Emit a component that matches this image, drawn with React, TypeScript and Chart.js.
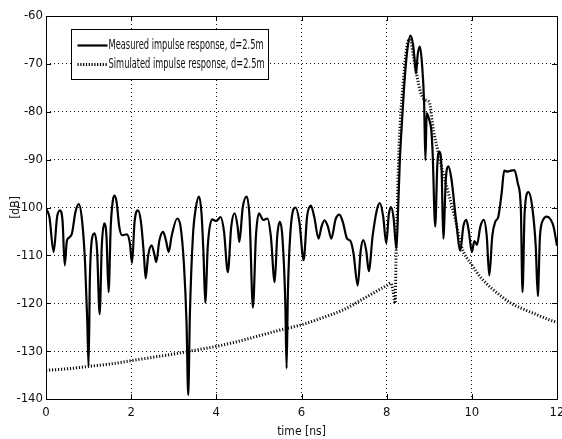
import React, { useEffect, useRef } from 'react';
import { Chart, registerables } from 'chart.js';

Chart.register(...registerables);

const FONT = "'Liberation Sans Narrow', 'DejaVu Sans Condensed', 'Arial Narrow', 'Liberation Sans', sans-serif";

const xTicks = [0, 2, 4, 6, 8, 10, 12];
const yTicks = [-60, -70, -80, -90, -100, -110, -120, -130, -140];

const legendLabels = ['Measured impulse response, d=2.5m', 'Simulated impulse response, d=2.5m'];

const measuredTime = [
  0.0, 0.08, 0.18, 0.26, 0.33, 0.39, 0.44, 0.49, 0.54, 0.61, 0.69, 0.77, 0.85, 0.92, 0.97, 1.0, 1.03, 1.08, 1.14, 1.2,
  1.26, 1.31, 1.37, 1.42, 1.47, 1.52, 1.57, 1.61, 1.66, 1.72, 1.79, 1.9, 1.97, 2.02, 2.08, 2.16, 2.23, 2.3, 2.34, 2.4,
  2.48, 2.55, 2.59, 2.66, 2.75, 2.82, 2.88, 2.95, 3.08, 3.16, 3.24, 3.3, 3.34, 3.38, 3.45, 3.52, 3.59, 3.65, 3.7, 3.74,
  3.8, 3.9, 4.0, 4.1, 4.18, 4.27, 4.35, 4.43, 4.5, 4.54, 4.62, 4.71, 4.78, 4.86, 4.93, 5.0, 5.1, 5.2, 5.28, 5.37,
  5.43, 5.49, 5.55, 5.62, 5.65, 5.68, 5.75, 5.86, 5.95, 6.05, 6.13, 6.22, 6.3, 6.4, 6.47, 6.54, 6.62, 6.7, 6.8, 6.89,
  6.97, 7.07, 7.15, 7.22, 7.32, 7.39, 7.45, 7.52, 7.58, 7.67, 7.77, 7.84, 7.92, 7.99, 8.05, 8.1, 8.16, 8.23, 8.27, 8.31,
  8.36, 8.41, 8.48, 8.56, 8.62, 8.65, 8.69, 8.73, 8.78, 8.83, 8.88, 8.91, 8.94, 9.0, 9.05, 9.08, 9.14, 9.19, 9.24, 9.29,
  9.33, 9.39, 9.45, 9.52, 9.63, 9.73, 9.8, 9.87, 9.93, 10.0, 10.06, 10.12, 10.2, 10.28, 10.35, 10.41, 10.48, 10.55, 10.62, 10.7,
  10.76, 10.84, 10.92, 11.0, 11.08, 11.15, 11.19, 11.24, 11.33, 11.42, 11.5, 11.55, 11.6, 11.68, 11.76, 11.85, 11.92, 12.0,
];

const measuredDb = [
  -100.2, -102, -109.3, -102, -100.6, -103, -112.1, -107, -106.3, -105.4, -101, -99.3, -103, -112, -124, -133.2, -115, -106.5, -105.4, -109,
  -122.3, -108, -103.3, -106, -117.7, -104, -98.5, -97.5, -99, -104, -105.8, -105.6, -107.5, -111.6, -103, -100.6, -103, -110, -114.8, -110,
  -107.9, -110, -111.4, -107, -105.1, -107, -109.3, -106, -102.3, -104, -112, -124, -139.2, -122, -106, -100, -97.7, -101, -110, -119.9,
  -108, -102.5, -102.8, -102, -105, -113.5, -104, -101.2, -104, -107.2, -100, -97.7, -102, -120.9, -106, -101.2, -102.6, -102.3, -106, -115.6,
  -106, -103, -106, -120, -133.6, -118, -104, -100, -103, -111, -102, -99.6, -102, -106.5, -104, -102.7, -104, -106.5, -102.5, -101.5,
  -103, -106.5, -107, -109.5, -116.3, -109, -106.8, -109, -113.3, -106, -100.5, -99.1, -102, -107.5, -101.5, -99.9, -102, -108.6, -100, -90.1,
  -82, -74.8, -67.5, -64.1, -66, -68.5, -72, -68, -66.4, -70, -78.3, -90.1, -80.3, -81.7, -84, -88.7, -104, -91, -88.4, -92,
  -106.5, -94, -91.4, -94, -102.7, -109, -104, -102.6, -105, -109.3, -107, -107.8, -104, -102.6, -106, -114.2, -106, -103, -102, -97,
  -92.3, -92.5, -92.3, -92.2, -95, -100, -117.7, -101, -96.8, -100, -108, -118.5, -106, -102.5, -101.9, -102.5, -104, -108,
];

const simulatedTime = [
  0, 0.5, 1, 1.5, 2, 2.5, 3, 3.5, 4, 4.5, 5, 5.5, 6, 6.5, 7, 7.5, 8, 8.1, 8.15, 8.2,
  8.22, 8.25, 8.28, 8.32, 8.38, 8.45, 8.52, 8.56, 8.62, 8.7, 8.8, 8.9, 9.0, 9.1, 9.2, 9.3, 9.45, 9.6, 9.75, 10.0,
  10.2, 10.44, 10.7, 10.9, 11.2, 11.5, 11.8, 12,
];

const simulatedDb = [
  -134, -133.7, -133.2, -132.7, -132, -131.3, -130.6, -129.8, -129, -128, -126.8, -125.6, -124.5, -123, -121.3, -118.8, -116.3, -115.8, -117.5, -120,
  -110, -100, -90, -82, -75, -68, -65, -65, -68, -72, -76, -77.5, -78, -84, -88, -92, -97, -102, -108, -112,
  -114.5, -116.7, -118.6, -119.9, -121.2, -122.3, -123.4, -124,
];

function drawFitText(ctx: CanvasRenderingContext2D, text: string, x: number, y: number, w: number) {
  const m = ctx.measureText(text).width;
  ctx.save();
  ctx.translate(x, y);
  ctx.scale(w / m, 1);
  ctx.fillText(text, 0, 0);
  ctx.restore();
}

const framePlugin = {
  id: 'frame',
  afterDatasetsDraw(chart: any) {
    const { ctx, chartArea: a, scales } = chart;
    ctx.save();
    ctx.strokeStyle = '#000';
    ctx.lineWidth = 1;
    ctx.setLineDash([]);
    ctx.strokeRect(Math.round(a.left) + 0.5, Math.round(a.top) + 0.5, Math.round(a.right - a.left), Math.round(a.bottom - a.top));
    const tl = 5;
    ctx.beginPath();
    for (const t of xTicks) {
      const px = Math.round(scales.x.getPixelForValue(t)) + 0.5;
      ctx.moveTo(px, a.bottom); ctx.lineTo(px, a.bottom - tl);
      ctx.moveTo(px, a.top); ctx.lineTo(px, a.top + tl);
    }
    for (const v of yTicks) {
      const py = Math.round(scales.y.getPixelForValue(v)) + 0.5;
      ctx.moveTo(a.left, py); ctx.lineTo(a.left + tl, py);
      ctx.moveTo(a.right, py); ctx.lineTo(a.right - tl, py);
    }
    ctx.stroke();

    // legend box
    const lx = Math.round(a.left + 25) + 0.5;
    const ly = Math.round(a.top + 13) + 0.5;
    const lw = 197;
    const lh = 50;
    ctx.fillStyle = '#fff';
    ctx.fillRect(lx, ly, lw, lh);
    ctx.strokeRect(lx, ly, lw, lh);
    const rows = [ly + 16, ly + 35];
    ctx.lineWidth = 2.2;
    ctx.beginPath();
    ctx.moveTo(lx + 6, rows[0]); ctx.lineTo(lx + 36, rows[0]);
    ctx.stroke();
    ctx.lineWidth = 3;
    ctx.setLineDash([1.2, 1.6]);
    ctx.beginPath();
    ctx.moveTo(lx + 6, rows[1]); ctx.lineTo(lx + 36, rows[1]);
    ctx.stroke();
    ctx.setLineDash([]);
    ctx.fillStyle = '#111';
    ctx.font = `14px ${FONT}`;
    ctx.textBaseline = 'middle';
    ctx.textAlign = 'left';
    drawFitText(ctx, legendLabels[0], lx + 37, rows[0], 155);
    drawFitText(ctx, legendLabels[1], lx + 37, rows[1], 156);
    ctx.restore();
  },
};

export default function App() {
  const ref = useRef<HTMLCanvasElement | null>(null);
  useEffect(() => {
    document.body.style.margin = '0';
    const canvas = ref.current;
    if (!canvas) return;
    const measured = measuredTime.map((t, i) => ({ x: t, y: measuredDb[i] }));
    const simulated = simulatedTime.map((t, i) => ({ x: t, y: simulatedDb[i] }));
    const chart = new Chart(canvas, {
      type: 'line',
      data: {
        datasets: [
          {
            label: legendLabels[0],
            data: measured,
            borderColor: '#000',
            borderWidth: 2.2,
            pointRadius: 0,
            cubicInterpolationMode: 'monotone',
            fill: false,
          },
          {
            label: legendLabels[1],
            data: simulated,
            borderColor: '#111',
            borderWidth: 3,
            borderDash: [1.2, 1.8],
            borderCapStyle: 'butt',
            pointRadius: 0,
            cubicInterpolationMode: 'monotone',
            fill: false,
          },
        ],
      },
      options: {
        responsive: false,
        animation: false,
        layout: { padding: { top: 16, right: 5, left: 0, bottom: 0 } },
        plugins: { legend: { display: false }, tooltip: { enabled: false } },
        scales: {
          x: {
            type: 'linear',
            min: 0,
            max: 12,
            afterBuildTicks: (s: any) => { s.ticks = xTicks.map((v) => ({ value: v })); },
            afterFit: (s: any) => { s.height = 40; s.paddingRight = 0; s.paddingLeft = 0; },
            grid: { color: '#111', lineWidth: 1, drawTicks: false },
            border: { display: false, dash: [1, 3] },
            ticks: { color: '#111', font: { family: FONT, size: 13 }, padding: 6, maxRotation: 0 },
            title: { display: true, text: 'time [ns]', color: '#111', font: { family: FONT, size: 12 }, padding: { top: 0, bottom: 0 } },
          },
          y: {
            type: 'linear',
            min: -140,
            max: -60,
            afterBuildTicks: (s: any) => { s.ticks = yTicks.map((v) => ({ value: v })); },
            afterFit: (s: any) => { s.width = 46; s.paddingTop = 0; s.paddingBottom = 0; },
            grid: { color: '#111', lineWidth: 1, drawTicks: false },
            border: { display: false, dash: [1, 3] },
            ticks: { color: '#111', font: { family: FONT, size: 13 }, padding: 3 },
            title: { display: true, text: '[dB]', color: '#111', font: { family: FONT, size: 12 }, padding: { top: 9, bottom: 0 } },
          },
        },
      },
      plugins: [framePlugin],
    });
    return () => chart.destroy();
  }, []);
  return (
    <div style={{ width: 562, height: 439, background: '#fff' }}>
      <canvas ref={ref} width={562} height={439} />
    </div>
  );
}
